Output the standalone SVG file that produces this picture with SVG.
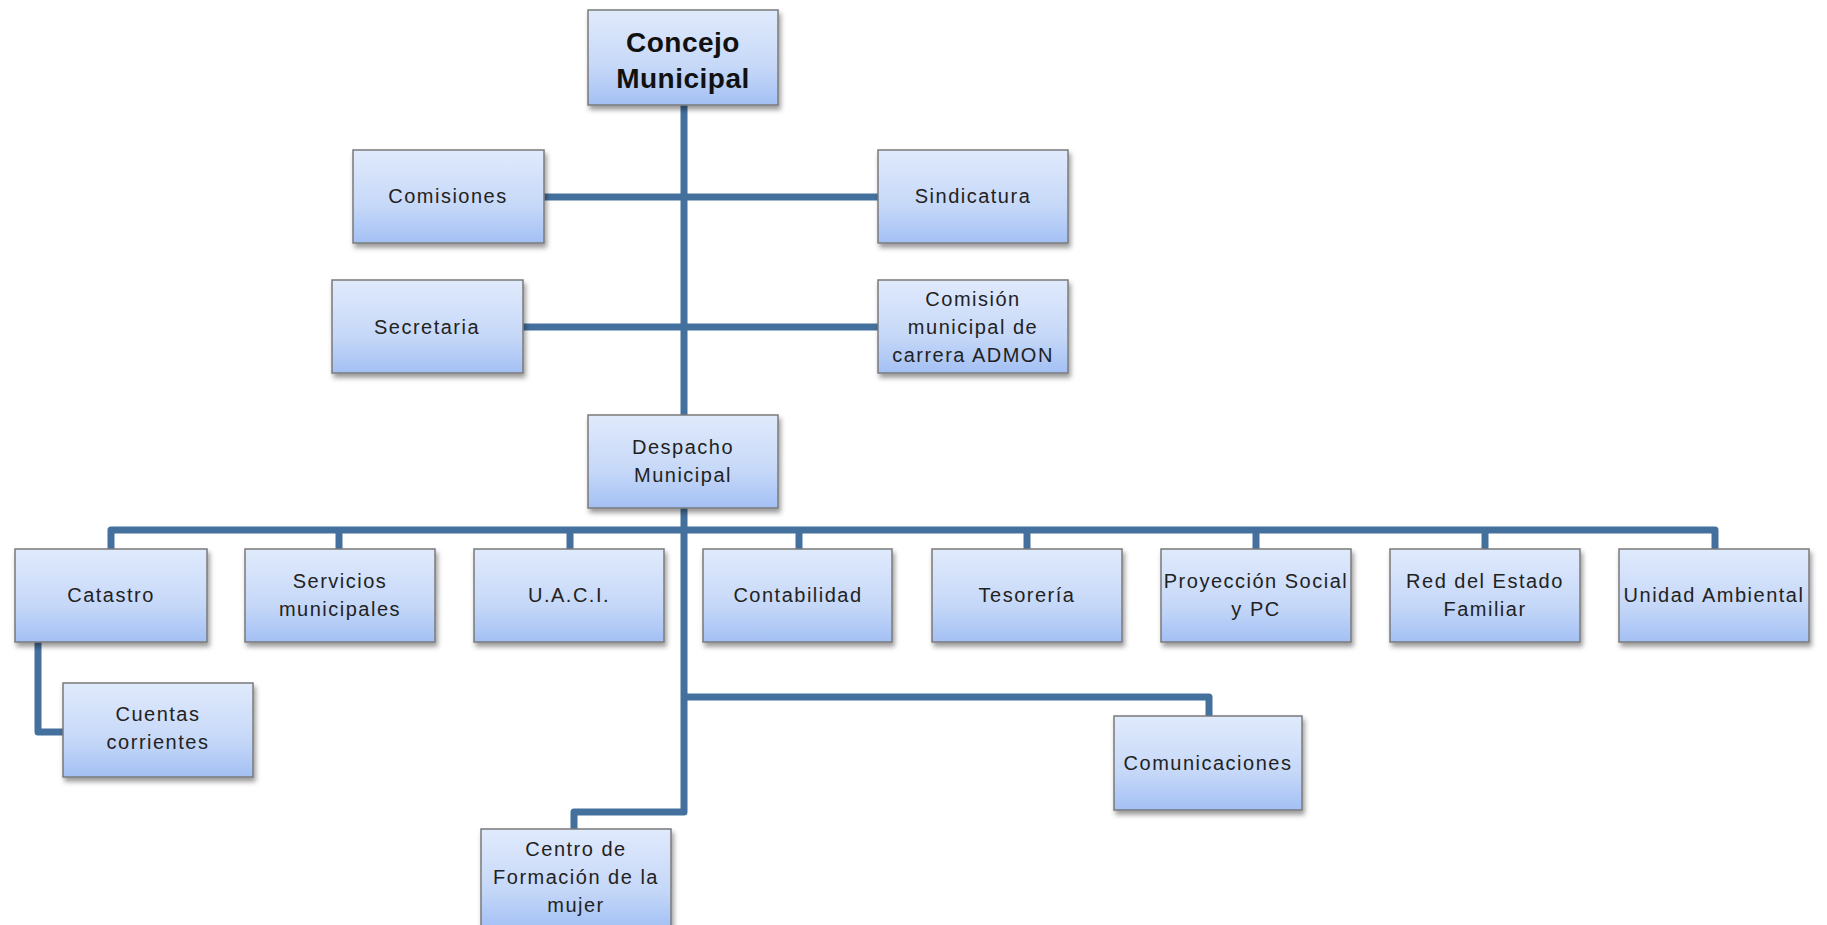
<svg xmlns="http://www.w3.org/2000/svg" width="1827" height="925" viewBox="0 0 1827 925">
<defs>
<linearGradient id="g" x1="0" y1="0" x2="0" y2="1">
<stop offset="0" stop-color="#e0eafc"/>
<stop offset="0.6" stop-color="#c6d8f8"/>
<stop offset="1" stop-color="#a3c0f4"/>
</linearGradient>
<filter id="sh" x="-10%" y="-10%" width="125%" height="130%">
<feDropShadow dx="2" dy="4" stdDeviation="2.5" flood-color="#000" flood-opacity="0.4"/>
</filter>
</defs>
<style>
.b{fill:url(#g);stroke:#7a7a7a;stroke-width:1.5;filter:url(#sh)}
.t{font-family:"Liberation Sans",Arial,sans-serif;font-size:20px;letter-spacing:1.5px;fill:#222;text-anchor:middle}
.h{font-family:"Liberation Sans",Arial,sans-serif;font-size:28px;font-weight:bold;letter-spacing:0.5px;fill:#111;text-anchor:middle}
.c{fill:none;stroke:#44709e;stroke-width:7;stroke-linejoin:round;stroke-linecap:butt}
</style>
<rect width="1827" height="925" fill="#fff"/>
<g id="connectors">
<path class="c" d="M684 105V415"/>
<path class="c" d="M544 197H878"/>
<path class="c" d="M523 327H878"/>
<path class="c" d="M684 508V812H574V829"/>
<path class="c" d="M111 549V530H1715V549"/>
<path class="c" d="M339 530V549M570 530V549M799 530V549M1027 530V549M1256 530V549M1485 530V549"/>
<path class="c" d="M684 697H1209V716"/>
<path class="c" d="M38 642V732H63"/>
</g>
<g id="concejo"><rect class="b" x="588" y="10" width="190" height="95"/><text class="h" x="683" y="52">Concejo</text><text class="h" x="683" y="88">Municipal</text></g>
<g id="comisiones"><rect class="b" x="353" y="150" width="191" height="93"/><text class="t" x="448" y="203">Comisiones</text></g>
<g id="sindicatura"><rect class="b" x="878" y="150" width="190" height="93"/><text class="t" x="973" y="203">Sindicatura</text></g>
<g id="secretaria"><rect class="b" x="332" y="280" width="191" height="93"/><text class="t" x="427" y="334">Secretaria</text></g>
<g id="comision"><rect class="b" x="878" y="280" width="190" height="93"/><text class="t" x="973" y="306">Comisión</text><text class="t" x="973" y="334">municipal de</text><text class="t" x="973" y="362">carrera ADMON</text></g>
<g id="despacho"><rect class="b" x="588" y="415" width="190" height="93"/><text class="t" x="683" y="454">Despacho</text><text class="t" x="683" y="482">Municipal</text></g>
<g id="catastro"><rect class="b" x="15" y="549" width="192" height="93"/><text class="t" x="111" y="602">Catastro</text></g>
<g id="servicios"><rect class="b" x="245" y="549" width="190" height="93"/><text class="t" x="340" y="588">Servicios</text><text class="t" x="340" y="616">municipales</text></g>
<g id="uaci"><rect class="b" x="474" y="549" width="190" height="93"/><text class="t" x="569" y="602">U.A.C.I.</text></g>
<g id="contabilidad"><rect class="b" x="703" y="549" width="189" height="93"/><text class="t" x="798" y="602">Contabilidad</text></g>
<g id="tesoreria"><rect class="b" x="932" y="549" width="190" height="93"/><text class="t" x="1027" y="602">Tesorería</text></g>
<g id="proyeccion"><rect class="b" x="1161" y="549" width="190" height="93"/><text class="t" x="1256" y="588">Proyección Social</text><text class="t" x="1256" y="616">y PC</text></g>
<g id="red"><rect class="b" x="1390" y="549" width="190" height="93"/><text class="t" x="1485" y="588">Red del Estado</text><text class="t" x="1485" y="616">Familiar</text></g>
<g id="unidad"><rect class="b" x="1619" y="549" width="190" height="93"/><text class="t" x="1714" y="602">Unidad Ambiental</text></g>
<g id="cuentas"><rect class="b" x="63" y="683" width="190" height="94"/><text class="t" x="158" y="721">Cuentas</text><text class="t" x="158" y="749">corrientes</text></g>
<g id="comunicaciones"><rect class="b" x="1114" y="716" width="188" height="94"/><text class="t" x="1208" y="770">Comunicaciones</text></g>
<g id="centro"><rect class="b" x="481" y="829" width="190" height="100"/><text class="t" x="576" y="856">Centro de</text><text class="t" x="576" y="884">Formación de la</text><text class="t" x="576" y="912">mujer</text></g>
</svg>
